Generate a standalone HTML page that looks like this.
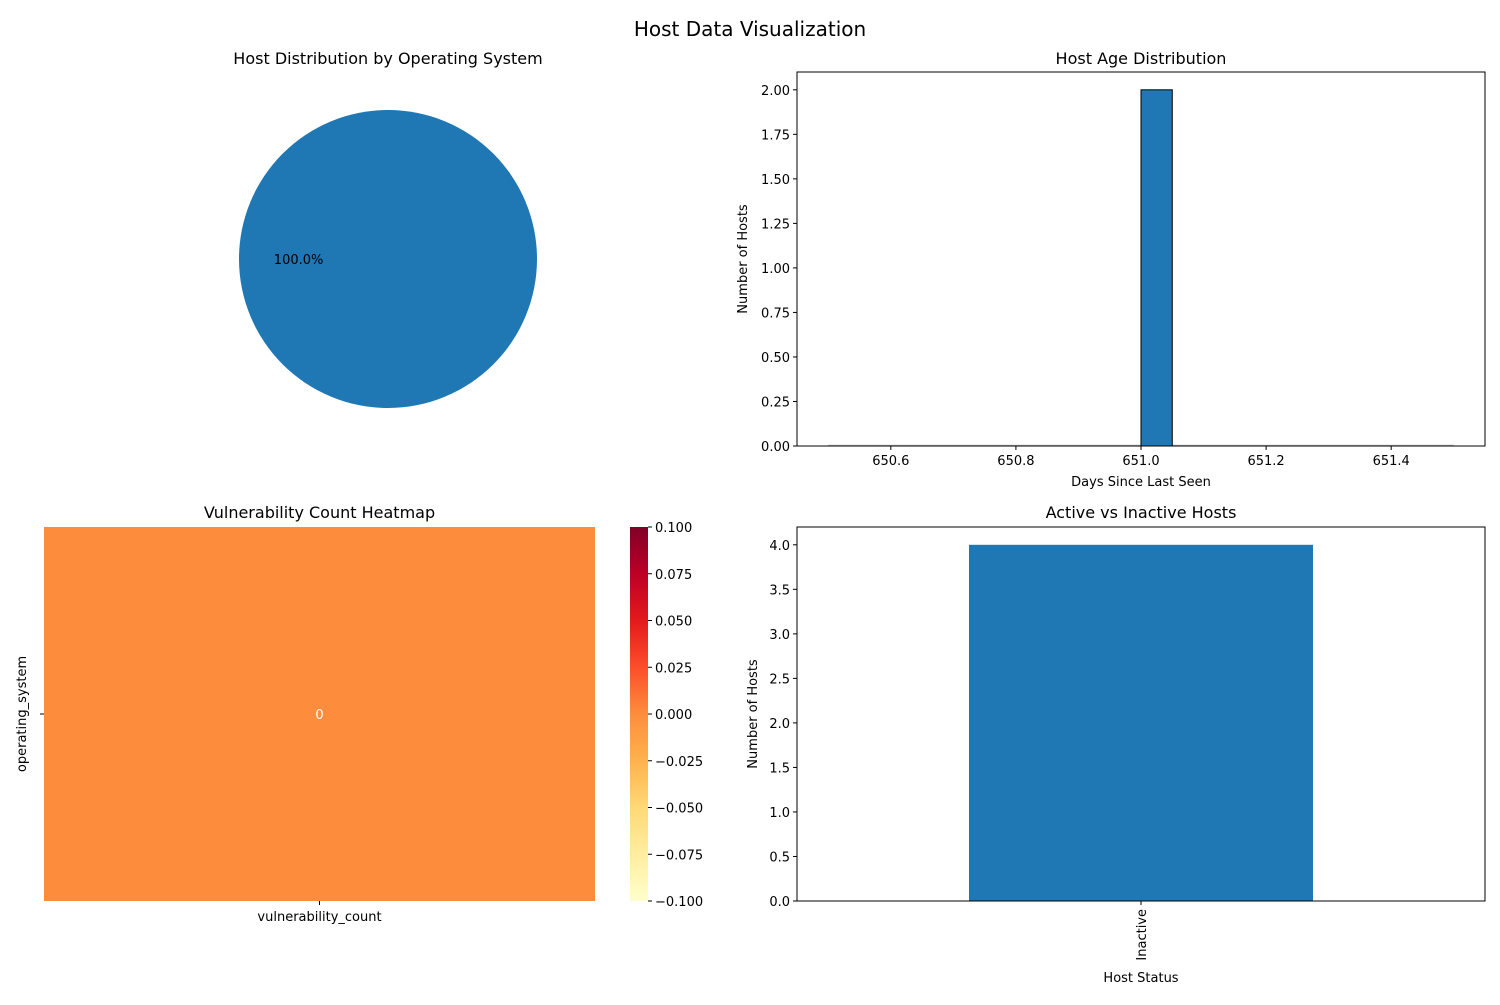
<!DOCTYPE html>
<html><head><meta charset="utf-8">
<style>
body{margin:0;background:#fff;}
svg text{font-family:"DejaVu Sans","Liberation Sans",sans-serif;fill:#000;}
</style></head>
<body>
<svg id="fig" width="1500" height="1000" xmlns="http://www.w3.org/2000/svg">
<defs>
<linearGradient id="ylorrd" x1="0" y1="1" x2="0" y2="0">
<stop offset="0" stop-color="#ffffcc"/><stop offset="0.125" stop-color="#ffeda0"/>
<stop offset="0.25" stop-color="#fed976"/><stop offset="0.375" stop-color="#feb24c"/>
<stop offset="0.5" stop-color="#fd8d3c"/><stop offset="0.625" stop-color="#fc4e2a"/>
<stop offset="0.75" stop-color="#e31a1c"/><stop offset="0.875" stop-color="#bd0026"/>
<stop offset="1" stop-color="#800026"/></linearGradient>
</defs>
<text x="750" y="36" font-size="20" text-anchor="middle">Host Data Visualization</text>
<g id="pie"></g>
<g id="hist"></g>
<g id="heat"></g>
<g id="bar"></g>
</svg>
<script>
const pieLabels = ["Linux"];
const pieValues = [2];
const histEdges = [651.0, 651.05];
const histCounts = [2];
const histRange = [650.5, 651.5];
const histTicks = [650.6, 650.8, 651.0, 651.2, 651.4];
const histYTicks = [0, 0.25, 0.5, 0.75, 1.0, 1.25, 1.5, 1.75, 2.0];
const heatRows = ["os"];
const heatValues = [0];
const cbTicks = [-0.1, -0.075, -0.05, -0.025, 0, 0.025, 0.05, 0.075, 0.1];
const barCats = ["Inactive"];
const barValues = [4];
const barYTicks = [0, 0.5, 1.0, 1.5, 2.0, 2.5, 3.0, 3.5, 4.0];

const NS = "http://www.w3.org/2000/svg";
function mk(p, t, a, txt){const e=document.createElementNS(NS,t);for(const k in a)e.setAttribute(k,a[k]);if(txt!==undefined)e.textContent=txt;p.appendChild(e);return e;}
function fmt(v,d){const s=Math.abs(v).toFixed(d);return (v<0?"\u2212":"")+s;}

// Pie
(function(){
  const g=document.getElementById('pie');
  mk(g,'text',{x:388,y:64,'font-size':16,'text-anchor':'middle'},'Host Distribution by Operating System');
  const cx=388,cy=259,r=149,tot=pieValues.reduce((a,b)=>a+b,0);
  const cols=['#1f77b4','#ff7f0e','#2ca02c','#d62728'];
  let a0=0;
  pieValues.forEach((v,i)=>{
    const frac=v/tot;let el;
    if(frac>=0.9999){el=mk(g,'circle',{cx,cy,r,fill:cols[i%4]});}
    else{const a1=a0+frac*2*Math.PI;
      const p=`M${cx},${cy}L${cx+r*Math.cos(a0)},${cy-r*Math.sin(a0)}A${r},${r} 0 ${frac>0.5?1:0} 0 ${cx+r*Math.cos(a1)},${cy-r*Math.sin(a1)}Z`;
      el=mk(g,'path',{d:p,fill:cols[i%4]});}
    
    
    const am=a0+frac*Math.PI;
    const lx=cx+0.6*r*Math.cos(am), ly=cy-0.6*r*Math.sin(am);
    const t=mk(g,'text',{x:lx,y:ly+5,'font-size':13,'text-anchor':'middle'},(frac*100).toFixed(1)+'%');
    
    
    a0+=frac*2*Math.PI;
  });
})();

// Histogram
(function(){
  const g=document.getElementById('hist');
  const L=797,R=1485,T=72,B=446;
  const xmin=650.45,xmax=651.55,ymax=2.1;
  const X=v=>L+(v-xmin)/(xmax-xmin)*(R-L);
  const Y=v=>B-v/ymax*(B-T);
  mk(g,'text',{x:(L+R)/2,y:64,'font-size':16,'text-anchor':'middle'},'Host Age Distribution');
  mk(g,'line',{x1:X(histRange[0]),x2:X(histRange[1]),y1:B-0.5,y2:B-0.5,stroke:'#bbb','stroke-width':1.5});
  histCounts.forEach((c,i)=>{
    const b=mk(g,'rect',{x:X(histEdges[i]),y:Y(c),width:X(histEdges[i+1])-X(histEdges[i]),height:B-Y(c),fill:'#1f77b4',stroke:'#000','stroke-width':1});
    
    
  });
  mk(g,'rect',{x:L,y:T,width:R-L,height:B-T,fill:'none',stroke:'#000','stroke-width':1});
  histTicks.forEach(v=>{mk(g,'line',{x1:X(v),x2:X(v),y1:B,y2:B+4,stroke:'#000'});
    const t=mk(g,'text',{x:X(v),y:B+19,'font-size':13,'text-anchor':'middle'},v.toFixed(1));
    });
  histYTicks.forEach(v=>{mk(g,'line',{x1:L-4,x2:L,y1:Y(v),y2:Y(v),stroke:'#000'});
    const t=mk(g,'text',{x:L-7,y:Y(v)+5,'font-size':13,'text-anchor':'end'},v.toFixed(2));
    });
  mk(g,'text',{x:(L+R)/2,y:486,'font-size':13,'text-anchor':'middle'},'Days Since Last Seen');
  mk(g,'text',{x:0,y:0,'font-size':13,'text-anchor':'middle',transform:`translate(747,${(T+B)/2}) rotate(-90)`},'Number of Hosts');
})();

// Heatmap
(function(){
  const g=document.getElementById('heat');
  const L=44,R=595,T=527,B=901;
  mk(g,'text',{x:(L+R)/2,y:518,'font-size':16,'text-anchor':'middle'},'Vulnerability Count Heatmap');
  const vmin=cbTicks[0],vmax=cbTicks[cbTicks.length-1];
  const stops=['#ffffcc','#ffeda0','#fed976','#feb24c','#fd8d3c','#fc4e2a','#e31a1c','#bd0026','#800026'];
  const col=v=>stops[Math.round((v-vmin)/(vmax-vmin)*(stops.length-1))];
  const h=(B-T)/heatRows.length;
  heatValues.forEach((v,i)=>{
    const c=mk(g,'rect',{x:L,y:T+i*h,width:R-L,height:h,fill:col(v)});
    
    mk(g,'text',{x:(L+R)/2,y:T+i*h+h/2+5,'font-size':13,'text-anchor':'middle',style:'fill:#fff'},String(v));
    mk(g,'line',{x1:L-4,x2:L,y1:T+i*h+h/2,y2:T+i*h+h/2,stroke:'#000'});
  });
  mk(g,'line',{x1:(L+R)/2,x2:(L+R)/2,y1:B,y2:B+4,stroke:'#000'});
  mk(g,'text',{x:(L+R)/2,y:921,'font-size':13,'text-anchor':'middle'},'vulnerability_count');
  mk(g,'text',{x:0,y:0,'font-size':13,'text-anchor':'middle',transform:`translate(26,${(T+B)/2}) rotate(-90)`},'operating_system');
  const cb=mk(g,'rect',{x:630,y:T,width:18,height:B-T,fill:'url(#ylorrd)'});
  
  const CY=v=>B-(v-vmin)/(vmax-vmin)*(B-T);
  cbTicks.forEach(v=>{mk(g,'line',{x1:648,x2:652,y1:CY(v),y2:CY(v),stroke:'#000'});
    const t=mk(g,'text',{x:655,y:CY(v)+5,'font-size':13},fmt(v,3));
    });
})();

// Bar chart
(function(){
  const g=document.getElementById('bar');
  const L=797,R=1485,T=527,B=901;
  const ymax=4.2;
  const n=barCats.length;
  const Y=v=>B-v/ymax*(B-T);
  mk(g,'text',{x:(L+R)/2,y:518,'font-size':16,'text-anchor':'middle'},'Active vs Inactive Hosts');
  const bw=(R-L)/n*0.5;
  barValues.forEach((v,i)=>{
    const cx=L+(i+0.5)*(R-L)/n;
    const b=mk(g,'rect',{x:cx-bw/2,y:Y(v),width:bw,height:B-Y(v),fill:'#1f77b4'});
    
    mk(g,'line',{x1:cx,x2:cx,y1:B,y2:B+4,stroke:'#000'});
    const t=mk(g,'text',{x:0,y:0,'font-size':13,'text-anchor':'end',transform:`translate(${cx+5},${B+8}) rotate(-90)`},barCats[i]);
    
  });
  mk(g,'rect',{x:L,y:T,width:R-L,height:B-T,fill:'none',stroke:'#000','stroke-width':1});
  barYTicks.forEach(v=>{mk(g,'line',{x1:L-4,x2:L,y1:Y(v),y2:Y(v),stroke:'#000'});
    const t=mk(g,'text',{x:L-7,y:Y(v)+5,'font-size':13,'text-anchor':'end'},v.toFixed(1));
    });
  mk(g,'text',{x:(L+R)/2,y:982,'font-size':13,'text-anchor':'middle'},'Host Status');
  mk(g,'text',{x:0,y:0,'font-size':13,'text-anchor':'middle',transform:`translate(757,${(T+B)/2}) rotate(-90)`},'Number of Hosts');
})();
</script>
</body></html>
